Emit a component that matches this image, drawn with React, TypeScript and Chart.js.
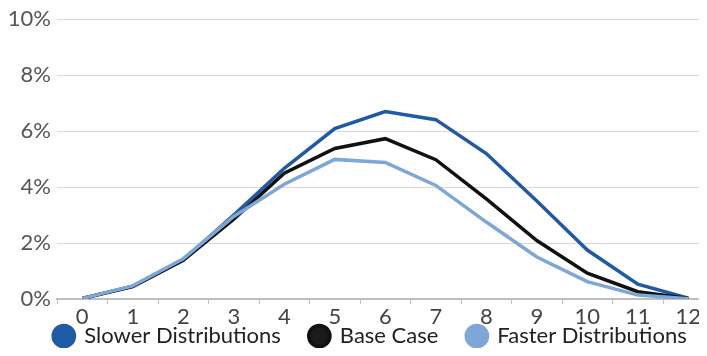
import React, { useEffect, useRef } from "react";
import { Chart, registerables } from "chart.js";

Chart.register(...registerables);

const xLabels = [0, 1, 2, 3, 4, 5, 6, 7, 8, 9, 10, 11, 12];
const slowerValues = [0.02, 0.46, 1.4, 3.0, 4.67, 6.09, 6.7, 6.41, 5.2, 3.5, 1.75, 0.53, 0.03];
const baseValues = [0.02, 0.44, 1.38, 2.85, 4.5, 5.38, 5.73, 4.98, 3.58, 2.09, 0.92, 0.26, 0.02];
const fasterValues = [0.02, 0.47, 1.44, 2.95, 4.1, 4.99, 4.88, 4.06, 2.75, 1.5, 0.62, 0.14, 0.01];
const seriesNames = ["Slower Distributions", "Base Case", "Faster Distributions"];
const yTicks = [0, 2, 4, 6, 8, 10];

const FONT = "Lato, 'Open Sans', sans-serif";
const FONT_SIZE = 22;
const LEGEND_PAD = 29;

const legendPlacer = {
  id: "legendPlacer",
  afterLayout(chart: any) {
    const lg = chart.legend;
    if (!lg) return;
    lg.top = 336 - LEGEND_PAD - FONT_SIZE / 2;
    lg.bottom = chart.height + 40;
    lg.height = lg.bottom - lg.top;
    lg.left += 17;
    lg.right += 17;
  },
};

export default function App() {
  const ref = useRef<HTMLCanvasElement | null>(null);
  useEffect(() => {
    document.body.style.overflow = "hidden";
    const ctx = ref.current!;
    const chart = new Chart(ctx, {
      type: "line",
      data: {
        labels: xLabels,
        datasets: [
          { label: seriesNames[0], data: slowerValues, borderColor: "#1F5AA6", backgroundColor: "#1F5AA6", borderWidth: 3.5, pointRadius: 0, order: 2 },
          { label: seriesNames[1], data: baseValues, borderColor: "#111111", backgroundColor: "#1a1a1a", borderWidth: 3.5, pointRadius: 0, order: 1 },
          { label: seriesNames[2], data: fasterValues, borderColor: "#7DA7D9", backgroundColor: "#7DA7D9", borderWidth: 3.5, pointRadius: 0, order: 0 },
        ],
      },
      plugins: [legendPlacer],
      options: {
        responsive: false,
        animation: false,
        layout: { padding: { top: 4, right: 0, left: 0, bottom: 0 } },
        plugins: {
          tooltip: { enabled: false },
          legend: {
            position: "bottom",
            maxHeight: 27,
            labels: {
              usePointStyle: true, pointStyle: "circle", boxWidth: 19, boxHeight: 15, padding: LEGEND_PAD,
              color: "#222222", font: { family: FONT, size: FONT_SIZE },
              sort: (a: any, b: any) => a.datasetIndex - b.datasetIndex,
            },
          },
        },
        scales: {
          x: {
            type: "linear", min: -0.5, max: 12.37,
            afterBuildTicks: (axis: any) => { axis.ticks = xLabels.map((v) => ({ value: v })); },
            afterFit: (axis: any) => { axis.height = 30; },
            ticks: { color: "#444444", font: { family: FONT, size: FONT_SIZE }, padding: 0, maxRotation: 0, autoSkip: false },
            grid: { offset: true, drawOnChartArea: false, drawTicks: true, tickLength: 5, color: "#bfbfbf" },
            border: { display: true, color: "#bfbfbf", width: 2 },
          },
          y: {
            min: 0, max: 10,
            afterBuildTicks: (axis: any) => { axis.ticks = yTicks.map((v) => ({ value: v })); },
            afterFit: (axis: any) => { axis.width = 57; },
            ticks: { color: "#555555", font: { family: FONT, size: FONT_SIZE }, padding: 6, callback: (v: any) => v + "%" },
            grid: { color: "#d9d9d9", lineWidth: 1, drawTicks: false },
            border: { display: false },
          },
        },
      },
    } as any);
    return () => chart.destroy();
  }, []);
  return (
    <div style={{ margin: "-8px", width: 707, height: 356, position: "relative" }}>
      <canvas ref={ref} width={707} height={356} style={{ display: "block" }} />
    </div>
  );
}
